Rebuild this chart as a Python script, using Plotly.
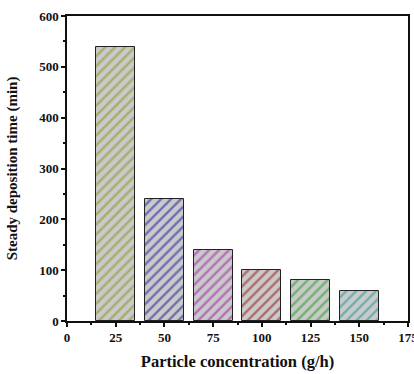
import plotly.graph_objects as go

concentrations = [25, 50, 75, 100, 125, 150]
deposition_time = [540, 240, 140, 100, 80, 60]
bar_colors = ["#869010", "#18189a", "#9c18a6", "#901212", "#189818", "#169696"]
x_ticks = [0, 25, 50, 75, 100, 125, 150, 175]
y_ticks = [0, 100, 200, 300, 400, 500, 600]

font_family = "Times New Roman, Liberation Serif, serif"

fig = go.Figure(
    go.Bar(
        x=concentrations,
        y=deposition_time,
        width=20,
        marker=dict(
            color="#cacaca",
            line=dict(color="#222222", width=1),
            pattern=dict(shape="/", fgcolor=bar_colors, bgcolor="#cacaca",
                         size=7, solidity=0.35, fillmode="overlay"),
        ),
    )
)

fig.update_layout(
    width=414, height=374,
    margin=dict(l=67, r=6, t=16, b=53),
    paper_bgcolor="white", plot_bgcolor="white",
    showlegend=False,
    font=dict(family=font_family, size=13, color="#111111"),
    bargap=0,
)
fig.update_xaxes(
    range=[0, 175], tickvals=x_ticks, ticktext=["<b>%d</b>" % v for v in x_ticks],
    showline=True, linecolor="#111111", linewidth=1.5, mirror=True,
    ticks="outside", ticklen=4, tickwidth=1.5, tickcolor="#111111",
    minor=dict(ticks="outside", ticklen=2, dtick=12.5, tick0=0, tickcolor="#111111"),
    showgrid=False, zeroline=False, automargin=False,
    ticklabeloverflow="allow",
    tickfont=dict(family=font_family, size=13, color="#111111"),
    title=dict(text="<b>Particle concentration (g/h)</b>",
               font=dict(family=font_family, size=16.5, color="#111111"), standoff=11),
)
fig.update_yaxes(
    range=[0, 600], tickvals=y_ticks, ticktext=["<b>%d</b>" % v for v in y_ticks],
    showline=True, linecolor="#111111", linewidth=1.5, mirror=True,
    ticks="outside", ticklen=4, tickwidth=1.5, tickcolor="#111111",
    minor=dict(ticks="outside", ticklen=2, dtick=50, tick0=0, tickcolor="#111111"),
    showgrid=False, zeroline=False, automargin=False,
    ticklabeloverflow="allow",
    tickfont=dict(family=font_family, size=13, color="#111111"),
    title=dict(text="<b>Steady deposition time (min)</b>",
               font=dict(family=font_family, size=15, color="#111111"), standoff=18),
)

fig.write_html("out.html", config={"displayModeBar": False},
               post_script="document.body.style.margin='0';")
